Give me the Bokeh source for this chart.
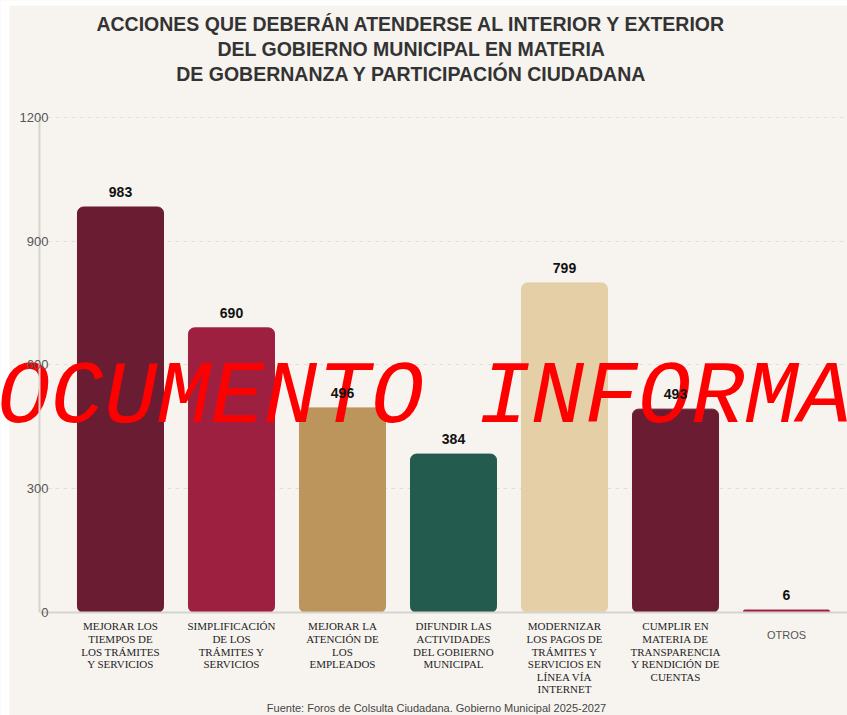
from bokeh.plotting import figure
from bokeh.models import Range1d, FixedTicker, Label, ColumnDataSource, BoxAnnotation
from bokeh.core.properties import value
from bokeh.embed import file_html
from bokeh.resources import INLINE

# ---- data ----
categories = [
    "MEJORAR LOS\nTIEMPOS DE\nLOS TRÁMITES\nY SERVICIOS",
    "SIMPLIFICACIÓN\nDE LOS\nTRÁMITES Y\nSERVICIOS",
    "MEJORAR LA\nATENCIÓN DE\nLOS\nEMPLEADOS",
    "DIFUNDIR LAS\nACTIVIDADES\nDEL GOBIERNO\nMUNICIPAL",
    "MODERNIZAR\nLOS PAGOS DE\nTRÁMITES Y\nSERVICIOS EN\nLÍNEA VÍA\nINTERNET",
    "CUMPLIR EN\nMATERIA DE\nTRANSPARENCIA\nY RENDICIÓN DE\nCUENTAS",
    "OTROS",
]
values = [983, 690, 496, 384, 799, 493, 6]
colors = ["#6A1C32", "#9E2040", "#BC955C", "#235B4E", "#E4CFA6", "#6A1C32", "#9F2241"]
y_ticks = [0, 300, 600, 900, 1200]
title_lines = [
    "ACCIONES QUE DEBERÁN ATENDERSE AL INTERIOR Y EXTERIOR",
    "DEL GOBIERNO MUNICIPAL EN MATERIA",
    "DE GOBERNANZA Y PARTICIPACIÓN CIUDADANA",
]
source_text = "Fuente: Foros de Colsulta Ciudadana. Gobierno Municipal 2025-2027"
watermark = "DOCUMENTO INFORMATIVO"

BG = "#F7F4F0"
W, H = 847, 715

xs = list(range(len(values)))
src = ColumnDataSource(dict(x=xs, top=values, color=colors,
                            label=[str(v) for v in values]))

# frame covers the whole canvas; axes are drawn at fixed locations inside it
X0, X1 = -1.081, 6.5495
Y0, Y1 = -249.7, 1483.6
AXIS_X = -0.73

p = figure(width=W, height=H, output_backend="svg", toolbar_location=None,
           x_range=Range1d(X0, X1), y_range=Range1d(Y0, Y1),
           min_border=0, min_border_left=0, min_border_right=0,
           min_border_top=0, min_border_bottom=0,
           background_fill_color=BG, border_fill_color=BG)
p.outline_line_color = None

# white page strips (left and top) as in the reference screenshot
p.add_layout(BoxAnnotation(right=X0 + 0.081, fill_color="white", fill_alpha=1,
                           line_color=None, level="underlay"))
p.add_layout(BoxAnnotation(bottom=Y1 - 12, fill_color="white", fill_alpha=1,
                           line_color=None, level="underlay"))

p.vbar(x="x", top="top", width=0.775, color="color", source=src,
       border_radius=6)
p.text(x="x", y="top", text="label", source=src, text_align="center",
       text_baseline="bottom", y_offset=-10, text_font=value("Liberation Sans"),
       text_font_style="bold", text_font_size="14px", text_color="#111111",
       level="overlay")

# grid
p.xgrid.grid_line_color = None
p.ygrid.grid_line_color = "#E3DED7"
p.ygrid.grid_line_dash = "4 4"
p.ygrid.ticker = FixedTicker(ticks=y_ticks[1:])
if "cross_bounds" in p.ygrid[0].properties():
    p.ygrid.cross_bounds = (AXIS_X, X1)

# y axis
p.yaxis.fixed_location = AXIS_X
p.yaxis.bounds = (y_ticks[0], y_ticks[-1])
p.yaxis.ticker = FixedTicker(ticks=y_ticks)
p.yaxis.axis_line_color = "#D6D3CE"
p.yaxis.axis_line_width = 2
p.yaxis.major_tick_line_color = None
p.yaxis.minor_tick_line_color = None
p.yaxis.major_tick_out = 0
p.yaxis.major_tick_in = 0
p.yaxis.minor_tick_out = 0
p.yaxis.major_label_standoff = -9
p.yaxis.major_label_text_font = "Liberation Sans"
p.yaxis.major_label_text_font_size = "13px"
p.yaxis.major_label_text_color = "#555555"
p.yaxis.level = "overlay"

# x axis
p.xaxis.fixed_location = 0
p.xaxis.bounds = (AXIS_X + 0.01, X1)
p.xaxis.ticker = FixedTicker(ticks=xs)
overrides = {i: c for i, c in enumerate(categories)}
overrides[6] = " "
p.xaxis.major_label_overrides = overrides
p.xaxis.axis_line_color = "#D6D3CE"
p.xaxis.axis_line_width = 2
p.xaxis.major_tick_line_color = None
p.xaxis.minor_tick_line_color = None
p.xaxis.major_tick_out = 0
p.xaxis.major_tick_in = 0
p.xaxis.minor_tick_out = 0
p.xaxis.major_label_standoff = 8
p.xaxis.major_label_text_font = "Liberation Serif"
p.xaxis.major_label_text_font_size = "11px"
p.xaxis.major_label_text_color = "#1E1E1E"
p.xaxis.major_label_text_line_height = 1.05

# "OTROS" label in sans-serif grey
p.add_layout(Label(x=6, y=H - 634, y_units="screen", text=categories[6],
                   text_align="center", text_baseline="middle",
                   text_font="Liberation Sans", text_font_size="11px",
                   text_color="#555555"))

# title
for i, t in enumerate(title_lines):
    p.add_layout(Label(x=411, y=H - (23 + 25 * i), x_units="screen", y_units="screen",
                       text=t, text_align="center", text_baseline="middle",
                       text_font="Liberation Sans", text_font_style="bold",
                       text_font_size="19.5px", text_color="#333333"))

# source
p.add_layout(Label(x=436, y=H - 707, x_units="screen", y_units="screen",
                   text=source_text, text_align="center", text_baseline="middle",
                   text_font="Liberation Sans", text_font_size="11px",
                   text_color="#444444"))

# watermark (above bars, below value labels)
p.add_layout(Label(x=-57, y=H - 398, x_units="screen", y_units="screen",
                   text=watermark, text_align="left", text_baseline="alphabetic",
                   text_font="Liberation Mono", text_font_style="italic",
                   text_font_size="89px", text_color="#FF0000", level="annotation"))

open("out.html", "w").write(file_html(p, INLINE))
